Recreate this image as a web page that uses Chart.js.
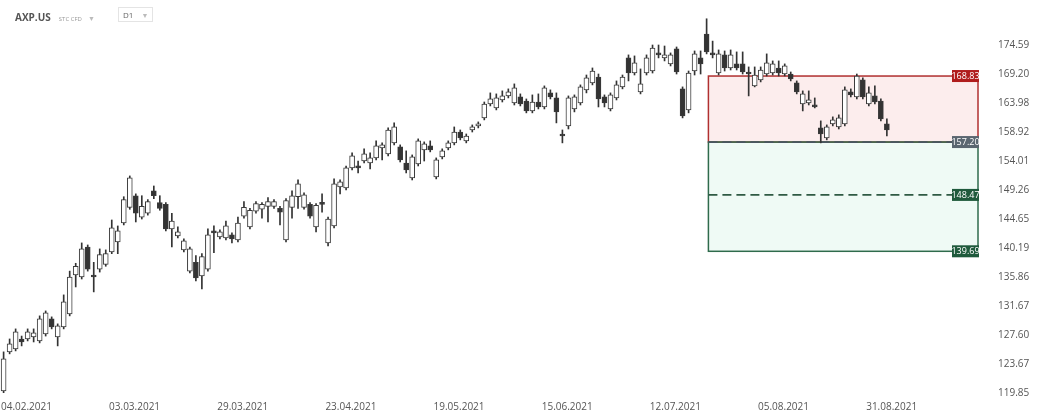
<!DOCTYPE html>
<html>
<head>
<meta charset="utf-8">
<script src="https://cdn.jsdelivr.net/npm/chart.js@4"></script>
<style>
  body { margin: 0; background: #fff; font-family: "Open Sans", Arial, sans-serif; }
  #wrap { position: relative; width: 1038px; height: 415px; }
  #top { position: absolute; left: 15px; top: 10px; font-size: 10px; color: #555; z-index: 2; }
  #top b { font-size: 10px; color: #555; }
  .small { font-size: 6px; color: #999; margin-left: 8px; }
  .caret { font-size: 7px; color: #bbb; margin-left: 6px; }
  .tf { position: absolute; left: 103px; top: -3px; border: 1px solid #e4e4e4; padding: 1px 4px; font-size: 8px; color: #666; white-space: nowrap; }
</style>
</head>
<body>
<div id="wrap">
  <div id="top"><b>AXP.US</b><span class="small">STC CFD</span><span class="caret">▼</span><span class="tf">D1 <span class="caret">▼</span></span></div>
  <canvas id="chart" width="1038" height="415"></canvas>
</div>
<script>
// OHLC, one entry per daily candle (AXP.US, D1)
const opens = [120.13,125.30,125.70,127.06,127.06,127.33,126.79,127.75,129.85,127.33,128.73,130.55,136.16,135.86,140.34,136.16,137.02,137.74,139.61,141.11,144.03,146.49,148.34,144.95,145.56,149.11,147.26,146.95,143.11,142.03,139.90,136.73,138.03,136.01,137.02,142.80,141.88,141.73,142.19,141.42,145.10,143.42,145.87,146.18,146.64,146.64,146.33,141.42,146.49,148.18,146.49,146.95,143.42,147.10,140.96,143.57,149.75,149.58,152.86,153.19,154.01,153.68,154.53,156.22,155.20,157.06,156.39,153.68,151.22,153.52,155.88,156.55,151.39,154.70,156.22,157.06,158.92,157.40,159.27,159.97,161.36,163.81,163.11,164.52,165.24,163.98,165.06,164.34,162.58,164.16,163.28,165.78,164.88,158.58,159.97,162.93,163.98,166.32,167.58,168.66,165.06,162.93,164.88,166.86,172.17,169.38,165.96,169.38,169.75,173.10,172.17,171.06,173.85,166.50,162.76,169.75,172.17,176.64,173.10,169.38,172.73,170.31,171.06,171.06,169.57,167.04,168.12,169.20,169.38,170.31,169.20,169.20,167.58,163.81,163.98,163.46,159.62,157.91,160.32,159.79,160.32,165.96,165.06,168.12,163.81,165.24,164.34,160.32];
const highs = [125.30,127.06,128.45,127.46,128.45,128.45,130.27,130.97,130.13,129.15,133.26,136.73,137.89,140.96,140.65,138.03,140.05,139.90,144.50,143.57,148.18,151.55,148.64,148.34,147.72,149.91,148.34,147.26,145.56,143.42,141.57,140.34,139.04,139.33,143.11,143.57,142.96,144.34,142.49,144.95,147.41,146.33,147.41,147.26,148.03,147.72,146.64,147.87,149.11,150.89,148.80,147.26,147.10,148.64,144.95,151.06,150.89,153.19,155.37,154.01,156.05,155.37,157.40,157.06,159.62,160.49,156.72,155.71,155.03,157.74,157.23,157.40,154.53,156.05,157.40,159.79,159.27,158.58,160.14,160.66,164.16,165.78,165.60,166.14,166.50,167.40,165.60,164.70,165.42,165.60,167.04,166.32,165.78,159.27,165.24,165.42,167.22,169.02,170.31,169.20,165.42,165.78,167.94,169.02,172.73,172.54,170.13,172.73,174.59,174.59,174.40,173.10,174.22,166.86,169.75,173.47,173.47,179.61,175.33,173.66,173.47,173.66,173.29,173.29,170.50,170.50,170.50,172.92,171.61,171.61,171.06,169.57,167.94,166.14,166.14,164.88,160.84,160.14,161.54,161.89,166.86,166.50,169.20,168.48,166.86,167.04,164.70,161.19];
const lows = [119.85,125.03,125.43,126.11,126.79,126.65,126.52,127.46,128.45,126.11,128.45,130.27,134.41,135.57,136.73,133.69,136.59,137.45,139.33,139.33,143.73,146.18,144.19,144.65,145.26,147.87,146.03,142.80,140.34,141.73,139.61,136.45,135.28,134.13,136.73,139.47,141.57,141.42,140.96,141.11,144.80,143.11,145.56,144.80,144.19,146.33,143.73,141.11,144.80,146.33,146.18,144.80,142.65,145.72,140.50,143.26,148.64,149.26,152.53,152.04,153.68,152.70,154.19,154.19,154.86,156.72,153.85,152.04,150.89,153.19,154.01,155.54,151.06,154.36,155.88,156.72,157.57,157.06,158.92,159.62,161.01,163.46,162.76,164.16,164.88,163.63,163.46,162.24,162.24,162.93,162.93,164.70,160.49,157.06,159.44,162.41,163.63,165.78,167.22,163.28,163.28,162.58,164.52,166.50,167.94,169.02,165.60,169.02,169.38,172.17,171.61,170.68,169.20,161.36,162.24,169.02,169.20,172.92,172.17,169.02,169.75,169.94,169.94,169.20,165.24,166.86,167.76,168.84,169.02,168.84,168.84,167.94,165.60,162.58,163.63,163.11,157.06,157.57,159.97,159.44,159.97,165.06,164.70,164.70,163.46,163.81,160.84,158.24];
const closes = [124.35,126.38,128.03,126.65,128.03,127.89,129.85,130.69,128.73,128.87,132.25,135.86,137.45,140.05,137.02,135.86,139.18,139.33,143.26,142.80,147.72,151.22,145.56,146.64,147.41,148.34,146.33,143.11,144.34,142.65,141.27,140.05,135.72,138.89,142.19,142.49,142.65,143.57,141.57,144.03,146.49,146.03,147.10,146.95,147.41,147.41,145.72,147.57,148.34,150.24,148.49,145.10,146.80,146.95,144.65,150.24,150.57,152.86,154.86,152.86,155.20,154.53,156.55,156.72,159.27,159.79,154.19,152.53,154.70,157.40,156.89,155.88,154.19,155.71,157.06,158.92,157.91,158.24,159.79,160.32,163.81,164.70,164.88,165.24,165.96,166.68,163.81,162.58,164.16,163.28,166.68,165.06,162.41,158.24,164.88,165.06,166.86,168.48,169.75,164.70,163.98,165.42,167.22,168.66,169.38,171.24,167.40,172.17,174.03,172.73,172.73,172.73,169.57,161.71,169.38,172.92,171.06,173.29,172.73,172.92,170.31,172.73,170.31,169.57,169.20,169.02,169.94,171.24,171.06,169.38,170.68,168.30,165.96,165.60,164.52,163.28,158.58,159.79,161.01,161.36,166.32,165.42,168.84,165.06,165.78,164.16,161.19,159.27];

const dateLabels = ['04.02.2021','03.03.2021','29.03.2021','23.04.2021','19.05.2021','15.06.2021','12.07.2021','05.08.2021','31.08.2021'];
const priceTicks = [174.59,169.20,163.98,158.92,154.01,149.26,144.65,140.19,135.86,131.67,127.60,123.67,119.85];

// trade zone levels
const stopLoss = 168.83;
const entry = 157.20;
const target1 = 148.47;
const target2 = 139.69;
const zoneStart = 117.3; // candle index where the zone begins

const firstTick = 3.8, tickStep = 18;

const bodies = opens.map((o, i) => ({ x: i, y: [o, closes[i]] }));
const wicks = highs.map((h, i) => ({ x: i, y: [lows[i], h] }));
const up = opens.map((o, i) => closes[i] >= o);

const zonePlugin = {
  id: 'zones',
  beforeDatasetsDraw(chart) {
    const { ctx, chartArea, scales: { x, y } } = chart;
    const x0 = x.getPixelForValue(zoneStart);
    const x1 = chartArea.right - 2;
    const ySl = y.getPixelForValue(stopLoss);
    const yEn = y.getPixelForValue(entry);
    const yT1 = y.getPixelForValue(target1);
    const yT2 = y.getPixelForValue(target2);
    ctx.save();
    ctx.fillStyle = 'rgba(250,225,225,0.6)';
    ctx.fillRect(x0, ySl, x1 - x0, yEn - ySl);
    ctx.fillStyle = 'rgba(228,246,238,0.6)';
    ctx.fillRect(x0, yEn, x1 - x0, yT2 - yEn);
    ctx.lineWidth = 1.5;
    ctx.strokeStyle = '#b03030';
    ctx.strokeRect(x0, ySl, x1 - x0, yEn - ySl);
    ctx.strokeStyle = '#2f6b4c';
    ctx.strokeRect(x0, yEn, x1 - x0, yT2 - yEn);
    ctx.setLineDash([9, 5]);
    ctx.lineWidth = 1.8;
    ctx.strokeStyle = '#2f5a44';
    ctx.beginPath(); ctx.moveTo(x0, yT1); ctx.lineTo(x1, yT1); ctx.stroke();
    ctx.strokeStyle = '#4a5560';
    ctx.beginPath(); ctx.moveTo(x0, yEn); ctx.lineTo(x1, yEn); ctx.stroke();
    ctx.restore();
  },
  afterDraw(chart) {
    const { ctx, chartArea, scales: { y } } = chart;
    const tags = [[stopLoss, '#b01c1c'], [entry, '#5a6670'], [target1, '#1f5a3c'], [target2, '#1f5a3c']];
    ctx.save();
    ctx.font = '9px "Open Sans", sans-serif';
    ctx.textAlign = 'center';
    ctx.textBaseline = 'middle';
    tags.forEach(([v, c]) => {
      const py = y.getPixelForValue(v);
      ctx.fillStyle = c;
      ctx.fillRect(chartArea.right - 28, py - 6, 27, 12);
      ctx.fillStyle = '#fff';
      ctx.fillText(v.toFixed(2), chartArea.right - 14.5, py + 0.5);
    });
    ctx.restore();
  }
};

new Chart(document.getElementById('chart'), {
  type: 'bar',
  data: {
    datasets: [{
      label: 'wick',
      data: wicks,
      backgroundColor: '#333',
      barThickness: 1,
      grouped: false,
      order: 2
    }, {
      label: 'body',
      data: bodies,
      backgroundColor: up.map(u => u ? '#ffffff' : '#333333'),
      borderColor: '#3a3a3a',
      borderWidth: 1,
      borderSkipped: false,
      barThickness: 5,
      minBarLength: 2,
      grouped: false,
      order: 1
    }]
  },
  options: {
    responsive: false,
    animation: false,
    layout: { padding: 0 },
    plugins: { legend: { display: false }, tooltip: { enabled: false } },
    scales: {
      x: {
        type: 'linear',
        offset: false,
        min: -0.6,
        max: 162.5,
        grid: { display: false },
        border: { display: false },
        afterFit(s) { s.height = 22; },
        afterBuildTicks(s) {
          s.ticks = dateLabels.map((d, k) => ({ value: firstTick + k * tickStep }));
        },
        ticks: {
          autoSkip: false,
          maxRotation: 0,
          color: '#555',
          font: { size: 10, family: '"Open Sans", sans-serif' },
          padding: 0,
          callback: (v, i) => dateLabels[i]
        }
      },
      y: {
        type: 'logarithmic',
        position: 'right',
        min: 119.85,
        max: 180.15,
        grid: { display: false },
        border: { display: false },
        afterFit(s) { s.width = 58; },
        afterBuildTicks(s) { s.ticks = priceTicks.map(v => ({ value: v })); },
        ticks: {
          color: '#555',
          font: { size: 10, family: '"Open Sans", sans-serif' },
          padding: 10,
          callback: v => v.toFixed(2)
        }
      }
    }
  },
  plugins: [zonePlugin]
});
</script>
</body>
</html>
